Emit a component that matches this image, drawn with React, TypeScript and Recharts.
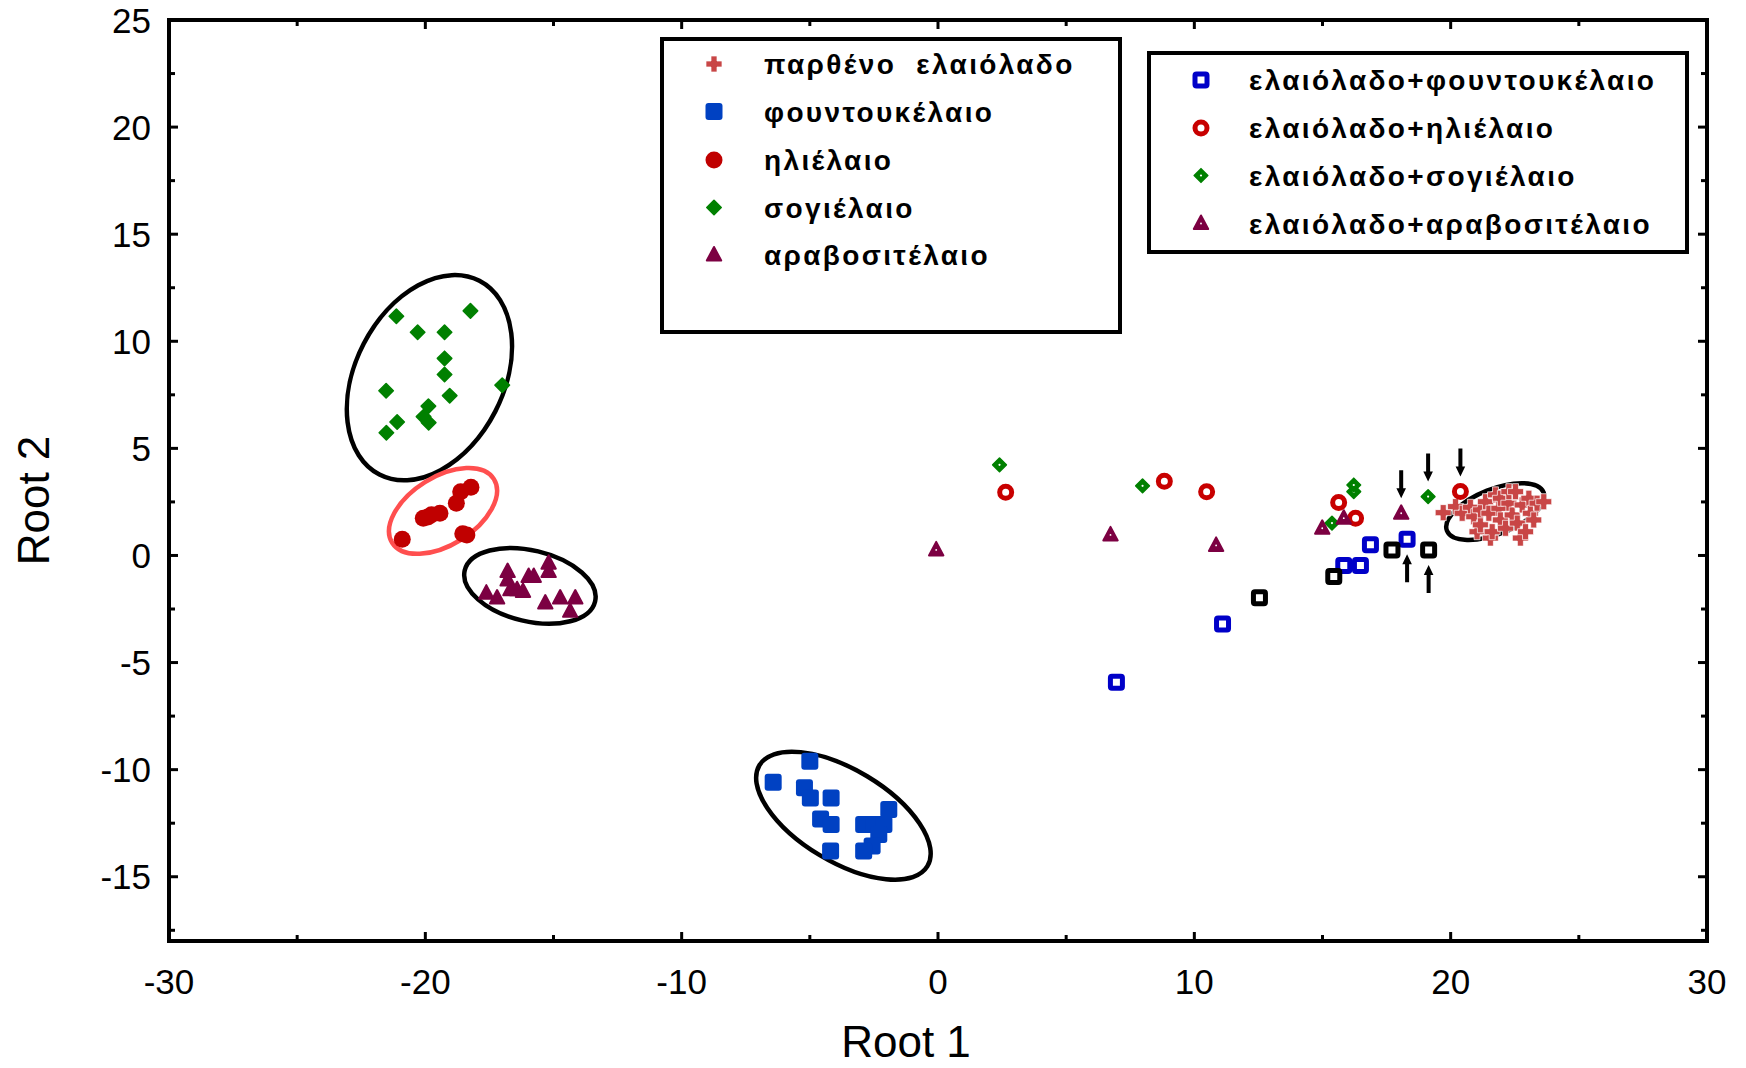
import { Legend, ReferenceArea, Scatter, ScatterChart, XAxis, YAxis } from 'recharts'

const FONT = '"Liberation Sans", Arial, Helvetica, sans-serif'
const W = 1746
const H = 1068

const X_TICKS = [-30, -25, -20, -15, -10, -5, 0, 5, 10, 15, 20, 25, 30]
const Y_TICKS = [-17.5, -15, -12.5, -10, -7.5, -5, -2.5, 0, 2.5, 5, 7.5, 10, 12.5, 15, 17.5, 20, 22.5, 25]

// pure oils
const VIRGIN = [
  { x: 19.71, y: 2.0 }, { x: 20.19, y: 2.28 }, { x: 20.45, y: 1.97 }, { x: 20.77, y: 2.25 },
  { x: 20.9, y: 1.81 }, { x: 21.03, y: 1.11 }, { x: 21.16, y: 1.43 }, { x: 21.16, y: 2.13 },
  { x: 21.36, y: 2.51 }, { x: 21.49, y: 1.97 }, { x: 21.55, y: 0.81 }, { x: 21.62, y: 1.11 },
  { x: 21.75, y: 2.83 }, { x: 21.88, y: 2.2 }, { x: 21.94, y: 1.66 }, { x: 21.94, y: 2.67 },
  { x: 22.14, y: 1.27 }, { x: 22.27, y: 2.44 }, { x: 22.27, y: 2.98 }, { x: 22.4, y: 1.89 },
  { x: 22.53, y: 2.98 }, { x: 22.6, y: 1.51 }, { x: 22.72, y: 0.81 }, { x: 22.79, y: 2.36 },
  { x: 22.92, y: 1.11 }, { x: 23.05, y: 2.67 }, { x: 23.11, y: 1.97 }, { x: 23.24, y: 1.66 },
  { x: 23.37, y: 2.44 }, { x: 23.63, y: 2.51 },
]
const HAZEL = [
  { x: -5.0, y: -9.61 }, { x: -6.43, y: -10.59 }, { x: -5.21, y: -10.85 }, { x: -4.98, y: -11.32 },
  { x: -4.17, y: -11.32 }, { x: -4.58, y: -12.3 }, { x: -4.17, y: -12.56 }, { x: -2.9, y: -12.56 },
  { x: -2.51, y: -12.56 }, { x: -2.11, y: -12.56 }, { x: -1.92, y: -11.86 }, { x: -2.31, y: -13.03 },
  { x: -2.57, y: -13.57 }, { x: -4.19, y: -13.8 }, { x: -2.9, y: -13.8 },
]
const SUN = [
  { x: -20.9, y: 0.76 }, { x: -20.08, y: 1.74 }, { x: -19.9, y: 1.8 }, { x: -19.76, y: 1.9 },
  { x: -19.43, y: 1.97 }, { x: -18.79, y: 2.44 }, { x: -18.62, y: 2.98 }, { x: -18.22, y: 3.19 },
  { x: -18.54, y: 1.01 }, { x: -18.38, y: 0.96 },
]
const SOY = [
  { x: -21.13, y: 11.17 }, { x: -20.3, y: 10.42 }, { x: -19.25, y: 10.42 }, { x: -18.24, y: 11.42 },
  { x: -19.25, y: 9.2 }, { x: -19.25, y: 8.45 }, { x: -21.53, y: 7.69 }, { x: -19.05, y: 7.46 },
  { x: -17.0, y: 7.95 }, { x: -19.88, y: 6.97 }, { x: -20.07, y: 6.48 }, { x: -19.87, y: 6.2 },
  { x: -21.1, y: 6.23 }, { x: -21.52, y: 5.73 },
]
const CORN = [
  { x: -17.62, y: -1.76 }, { x: -17.2, y: -1.99 }, { x: -16.79, y: -0.75 }, { x: -16.79, y: -1.14 },
  { x: -16.68, y: -1.6 }, { x: -16.42, y: -1.6 }, { x: -15.97, y: -0.98 }, { x: -15.77, y: -0.98 },
  { x: -16.19, y: -1.68 }, { x: -15.19, y: -0.36 }, { x: -15.19, y: -0.75 }, { x: -15.32, y: -2.22 },
  { x: -14.74, y: -1.99 }, { x: -14.15, y: -1.99 }, { x: -14.35, y: -2.61 },
]

// olive oil blends
const MIX_HAZEL = [
  { x: 6.96, y: -5.92 }, { x: 11.1, y: -3.2 }, { x: 15.83, y: -0.47 }, { x: 16.48, y: -0.47 },
  { x: 16.87, y: 0.5 }, { x: 18.3, y: 0.76 },
]
const MIX_SUN = [
  { x: 2.64, y: 2.95 }, { x: 8.83, y: 3.46 }, { x: 10.48, y: 2.97 }, { x: 15.63, y: 2.47 },
  { x: 16.29, y: 1.74 }, { x: 20.38, y: 2.99 },
]
const MIX_SOY = [
  { x: 2.4, y: 4.23 }, { x: 7.98, y: 3.25 }, { x: 15.37, y: 1.51 }, { x: 16.22, y: 2.98 },
  { x: 16.22, y: 3.29 }, { x: 19.12, y: 2.75 },
]
const MIX_CORN = [
  { x: -0.07, y: 0.26 }, { x: 6.73, y: 0.96 }, { x: 10.85, y: 0.47 }, { x: 14.99, y: 1.27 },
  { x: 15.83, y: 1.74 }, { x: 18.07, y: 1.97 },
]
const HIGHLIGHTED = [
  { x: 12.54, y: -1.97 }, { x: 15.44, y: -0.98 }, { x: 17.71, y: 0.26 }, { x: 19.14, y: 0.26 },
]

// arrows point at these samples
const ARROWS_DOWN = [
  { x: 18.07, y: 1.97 }, { x: 19.12, y: 2.75 }, { x: 20.38, y: 2.99 },
]
const ARROWS_UP = [
  { x: 18.3, y: 0.76 }, { x: 19.14, y: 0.26 },
]

// group ellipses: centre in data units, shape in pixels
const ELLIPSES = [
  { x: -19.84, y: 8.3, rx: 109, ry: 74, angle: -62.7, color: '#000' },
  { x: -19.31, y: 2.08, rx: 60, ry: 34, angle: -32, color: '#ff4f4f' },
  { x: -15.92, y: -1.42, rx: 67, ry: 35.5, angle: 13.4, color: '#000' },
  { x: -3.69, y: -12.15, rx: 98, ry: 46, angle: 31, color: '#000' },
  { x: 21.74, y: 2.05, rx: 52, ry: 22.5, angle: -21.7, color: '#000' },
]

type Kind =
  | 'cross' | 'square' | 'circle' | 'diamond' | 'triangle'
  | 'openSquare' | 'openCircle' | 'dotDiamond' | 'dotTriangle'

const SERIES: { name: string; data: { x: number; y: number }[]; kind: Kind; color: string; box: number }[] = [
  { name: 'παρθένο  ελαιόλαδο', data: VIRGIN, kind: 'cross', color: '#c84646', box: 1 },
  { name: 'φουντουκέλαιο', data: HAZEL, kind: 'square', color: '#0041c2', box: 1 },
  { name: 'ηλιέλαιο', data: SUN, kind: 'circle', color: '#c00000', box: 1 },
  { name: 'σογιέλαιο', data: SOY, kind: 'diamond', color: '#008000', box: 1 },
  { name: 'αραβοσιτέλαιο', data: CORN, kind: 'triangle', color: '#7c0042', box: 1 },
  { name: 'ελαιόλαδο+φουντουκέλαιο', data: MIX_HAZEL, kind: 'openSquare', color: '#0000c8', box: 2 },
  { name: 'ελαιόλαδο+ηλιέλαιο', data: MIX_SUN, kind: 'openCircle', color: '#c80000', box: 2 },
  { name: 'ελαιόλαδο+σογιέλαιο', data: MIX_SOY, kind: 'dotDiamond', color: '#008000', box: 2 },
  { name: 'ελαιόλαδο+αραβοσιτέλαιο', data: MIX_CORN, kind: 'dotTriangle', color: '#7c0042', box: 2 },
]

function Marker({ kind, cx, cy, color }: { kind: Kind; cx: number; cy: number; color: string }) {
  const diamond = (r: number) => `M${cx},${cy - r}L${cx + r},${cy}L${cx},${cy + r}L${cx - r},${cy}Z`
  const tri = `M${cx},${cy - 8}L${cx + 7.2},${cy + 5.5}L${cx - 7.2},${cy + 5.5}Z`
  switch (kind) {
    case 'cross': {
      const a = 8
      const t = 3
      const d = `M${cx - t},${cy - a}H${cx + t}V${cy - t}H${cx + a}V${cy + t}H${cx + t}V${cy + a}H${cx - t}V${cy + t}H${cx - a}V${cy - t}H${cx - t}Z`
      return <path d={d} fill={color} stroke="#fff" strokeWidth={0.7} />
    }
    case 'square':
      return <rect x={cx - 8.5} y={cy - 8.5} width={17} height={17} rx={3} fill={color} />
    case 'circle':
      return <circle cx={cx} cy={cy} r={8.5} fill={color} />
    case 'diamond':
      return <path d={diamond(7.2)} fill={color} stroke={color} strokeWidth={1.6} strokeLinejoin="round" />
    case 'triangle':
      return <path d={tri} fill={color} stroke={color} strokeWidth={2} strokeLinejoin="round" />
    case 'openSquare':
      return <rect x={cx - 6} y={cy - 6} width={12} height={12} rx={1.5} fill="#fff" stroke={color} strokeWidth={5} />
    case 'openCircle':
      return <circle cx={cx} cy={cy} r={6} fill="#fff" stroke={color} strokeWidth={5} />
    case 'dotDiamond':
      return (
        <g>
          <path d={diamond(6.8)} fill={color} stroke={color} strokeWidth={1.6} strokeLinejoin="round" />
          <circle cx={cx} cy={cy} r={1.1} fill="#fff" />
        </g>
      )
    case 'dotTriangle':
      return (
        <g>
          <path d={tri} fill={color} stroke={color} strokeWidth={2} strokeLinejoin="round" />
          <circle cx={cx} cy={cy} r={0.9} fill="#fff" />
        </g>
      )
  }
  return null
}

function Arrow({ cx, cy, dir }: { cx: number; cy: number; dir: number }) {
  // dir 1: sits above the point and points down; -1: sits below and points up
  const gap = 15
  const len = 28
  const head = 10
  const hw = 4.8
  const sw = 2
  const tip = cy - dir * gap
  const tail = tip - dir * len
  const base = tip - dir * head
  const d = `M${cx - sw},${tail}L${cx + sw},${tail}L${cx + sw},${base}L${cx + hw},${base}L${cx},${tip}L${cx - hw},${base}L${cx - sw},${base}Z`
  return <path d={d} fill="#000" />
}

function BottomTick({ x, y, payload }: any) {
  const v = payload.value
  const major = v % 10 === 0
  return (
    <g>
      <line x1={x} x2={x} y1={y} y2={y - (major ? 9 : 6)} stroke="#000" strokeWidth={3} />
      {major && (
        <text x={x} y={y + 53} textAnchor="middle" fontSize={35} fontFamily={FONT} fill="#000">
          {v}
        </text>
      )}
    </g>
  )
}

function TopTick({ x, y, payload }: any) {
  const major = payload.value % 10 === 0
  return <line x1={x} x2={x} y1={y} y2={y + (major ? 9 : 6)} stroke="#000" strokeWidth={3} />
}

function LeftTick({ x, y, payload }: any) {
  const v = payload.value
  const major = v % 5 === 0
  return (
    <g>
      <line x1={x} x2={x + (major ? 9 : 6)} y1={y} y2={y} stroke="#000" strokeWidth={3} />
      {major && (
        <text x={x - 18} y={y + 12.5} textAnchor="end" fontSize={35} fontFamily={FONT} fill="#000">
          {v}
        </text>
      )}
    </g>
  )
}

function RightTick({ x, y, payload }: any) {
  const major = payload.value % 5 === 0
  return <line x1={x} x2={x - (major ? 9 : 6)} y1={y} y2={y} stroke="#000" strokeWidth={3} />
}

function XTitle({ viewBox }: any) {
  const { x, y, width } = viewBox
  return (
    <text x={x + width / 2 - 32} y={y + 116} textAnchor="middle" fontSize={44} fontFamily={FONT} fill="#000">
      Root 1
    </text>
  )
}

function YTitle({ viewBox }: any) {
  const { x, y, height } = viewBox
  const tx = x + 30
  const ty = y + height / 2 + 20
  return (
    <text
      x={tx}
      y={ty}
      transform={`rotate(-90 ${tx} ${ty})`}
      textAnchor="middle"
      fontSize={44}
      fontFamily={FONT}
      fill="#000"
    >
      Root 2
    </text>
  )
}

const BOXES = [
  { box: 1, left: 662, top: 39, width: 458, height: 293, markerX: 714, textX: 764, rows: [64, 111.5, 160, 207.5, 255] },
  { box: 2, left: 1149, top: 53, width: 538, height: 199, markerX: 1201, textX: 1249, rows: [80, 128, 175.5, 223.5] },
]

function LegendBoxes() {
  return (
    <svg width={W} height={400} style={{ position: 'absolute', left: 0, top: 0, overflow: 'visible' }}>
      {BOXES.map((b) => {
        const items = SERIES.filter((s) => s.box === b.box)
        return (
          <g key={b.box}>
            <rect x={b.left} y={b.top} width={b.width} height={b.height} fill="#fff" stroke="#000" strokeWidth={4} />
            {items.map((s, i) => (
              <g key={s.name}>
                <Marker kind={s.kind} cx={b.markerX} cy={b.rows[i]} color={s.color} />
                <text
                  x={b.textX}
                  y={b.rows[i] + 10}
                  fontSize={28}
                  fontWeight="bold"
                  letterSpacing={2.35}
                  fontFamily={FONT}
                  fill="#000"
                  style={{ whiteSpace: 'pre' }}
                >
                  {s.name}
                </text>
              </g>
            ))}
          </g>
        )
      })}
    </svg>
  )
}

export default function App() {
  return (
    <div style={{ position: 'absolute', left: 0, top: 0, background: '#fff' }}>
      <ScatterChart width={W} height={H} margin={{ top: 19, right: 38, bottom: 47, left: 19 }}>
        <XAxis
          xAxisId="b"
          type="number"
          dataKey="x"
          domain={[-30, 30]}
          allowDataOverflow
          ticks={X_TICKS}
          interval={0}
          height={80}
          axisLine={false}
          tickLine={false}
          tickSize={0}
          tickMargin={0}
          tick={<BottomTick />}
          label={<XTitle />}
        />
        <XAxis
          xAxisId="t"
          orientation="top"
          type="number"
          dataKey="x"
          domain={[-30, 30]}
          allowDataOverflow
          ticks={X_TICKS}
          interval={0}
          height={1}
          axisLine={false}
          tickLine={false}
          tickSize={0}
          tickMargin={0}
          tick={<TopTick />}
        />
        <YAxis
          yAxisId="l"
          type="number"
          dataKey="y"
          domain={[-18, 25]}
          allowDataOverflow
          ticks={Y_TICKS}
          interval={0}
          width={150}
          axisLine={false}
          tickLine={false}
          tickSize={0}
          tickMargin={0}
          tick={<LeftTick />}
          label={<YTitle />}
        />
        <YAxis
          yAxisId="r"
          orientation="right"
          type="number"
          dataKey="y"
          domain={[-18, 25]}
          allowDataOverflow
          ticks={Y_TICKS}
          interval={0}
          width={1}
          axisLine={false}
          tickLine={false}
          tickSize={0}
          tickMargin={0}
          tick={<RightTick />}
        />
        <ReferenceArea
          xAxisId="b"
          yAxisId="l"
          x1={-30}
          x2={30}
          y1={-18}
          y2={25}
          fill="none"
          stroke="#000"
          strokeWidth={4}
        />
        {ELLIPSES.map((e, i) => (
          <Scatter
            key={`ell-${i}`}
            xAxisId="t"
            yAxisId="r"
            data={[{ x: e.x, y: e.y }]}
            isAnimationActive={false}
            legendType="none"
            shape={(p: any) => (
              <ellipse
                cx={p.cx}
                cy={p.cy}
                rx={e.rx}
                ry={e.ry}
                transform={`rotate(${e.angle} ${p.cx} ${p.cy})`}
                fill="none"
                stroke={e.color}
                strokeWidth={4.5}
              />
            )}
          />
        ))}
        {SERIES.map((s) => (
          <Scatter
            key={s.name}
            name={s.name}
            xAxisId="b"
            yAxisId="l"
            data={s.data}
            isAnimationActive={false}
            shape={(p: any) => <Marker kind={s.kind} cx={p.cx} cy={p.cy} color={s.color} />}
          />
        ))}
        <Scatter
          xAxisId="b"
          yAxisId="l"
          data={HIGHLIGHTED}
          isAnimationActive={false}
          legendType="none"
          shape={(p: any) => <Marker kind="openSquare" cx={p.cx} cy={p.cy} color="#000" />}
        />
        <Scatter
          xAxisId="b"
          yAxisId="l"
          data={ARROWS_DOWN}
          isAnimationActive={false}
          legendType="none"
          shape={(p: any) => <Arrow cx={p.cx} cy={p.cy} dir={1} />}
        />
        <Scatter
          xAxisId="b"
          yAxisId="l"
          data={ARROWS_UP}
          isAnimationActive={false}
          legendType="none"
          shape={(p: any) => <Arrow cx={p.cx} cy={p.cy} dir={-1} />}
        />
        <Legend
          content={() => <LegendBoxes />}
          wrapperStyle={{ position: 'absolute', left: 0, top: 0, width: 0, height: 0 }}
        />
      </ScatterChart>
    </div>
  )
}
